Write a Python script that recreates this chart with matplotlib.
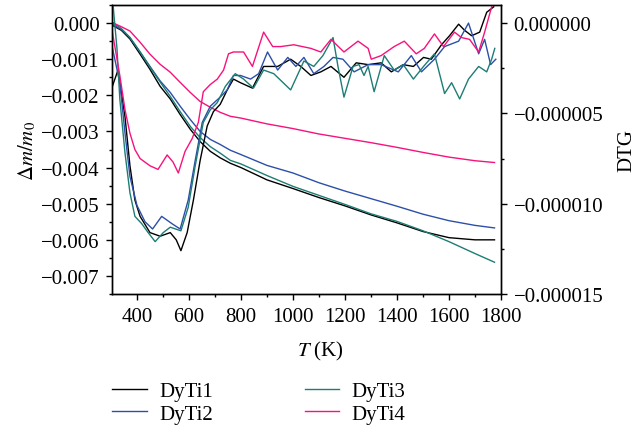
import matplotlib.pyplot as plt
from matplotlib.ticker import MultipleLocator, FuncFormatter

plt.rcParams['font.family'] = ['Liberation Serif', 'DejaVu Serif']
plt.rcParams['mathtext.fontset'] = 'stix'
plt.rcParams['font.size'] = 15

labels = ['DyTi1', 'DyTi2', 'DyTi3', 'DyTi4']
colors = ['#000000', '#2c4fa8', '#1d7d74', '#f7127c']

# TG curves (left axis), dm/m0 in units of 1e-3
tg_T = [303, 340, 373, 412, 450, 489, 528, 566, 605, 643, 682, 720, 759, 800,
        900, 1000, 1100, 1200, 1300, 1400, 1500, 1600, 1700, 1775]
tg_dyti1 = [-0.05, -0.20, -0.44, -0.86, -1.28, -1.75, -2.10, -2.53, -2.94, -3.28,
            -3.55, -3.73, -3.88, -4.00, -4.34, -4.58, -4.83, -5.06, -5.31, -5.53,
            -5.77, -5.94, -6.00, -6.00]
tg_dyti2 = [-0.02, -0.18, -0.40, -0.80, -1.20, -1.60, -1.92, -2.30, -2.67, -3.00,
            -3.22, -3.36, -3.52, -3.64, -3.94, -4.15, -4.42, -4.65, -4.86, -5.07,
            -5.29, -5.47, -5.60, -5.67]
tg_dyti3 = [0.03, -0.15, -0.40, -0.80, -1.22, -1.63, -2.03, -2.45, -2.86, -3.17,
            -3.42, -3.60, -3.80, -3.90, -4.22, -4.52, -4.77, -5.02, -5.28, -5.49,
            -5.75, -6.05, -6.38, -6.62]
tg_dyti4 = [0.02, -0.10, -0.22, -0.53, -0.86, -1.14, -1.36, -1.64, -1.92, -2.17,
            -2.33, -2.47, -2.58, -2.63, -2.79, -2.92, -3.07, -3.19, -3.31, -3.44,
            -3.58, -3.71, -3.81, -3.86]

# DTG curves (right axis), in units of 1e-6
dtg1_T = [303, 327, 354, 373, 392, 412, 450, 489, 528, 551, 569, 593, 617, 643,
          670, 694, 720, 747, 771, 798, 844, 887, 941, 991, 1030, 1069, 1107,
          1146, 1196, 1243, 1289, 1339, 1378, 1424, 1463, 1502, 1532, 1571, 1602,
          1637, 1660, 1687, 1718, 1745, 1772]
dtg1 = [-3.6, -2.6, -5.2, -7.9, -9.8, -10.7, -11.6, -11.8, -11.6, -12.0, -12.6,
        -11.6, -9.8, -7.6, -5.7, -4.9, -4.5, -3.7, -3.1, -3.3, -3.6, -2.4, -2.4,
        -2.0, -2.4, -2.9, -2.7, -2.4, -3.0, -2.2, -2.3, -2.2, -2.7, -2.3, -2.4,
        -1.9, -2.0, -1.2, -0.7, -0.06, -0.4, -0.7, -0.5, 0.6, 0.9]
dtg2_T = [303, 334, 354, 373, 400, 431, 460, 495, 534, 566, 597, 624, 651, 682,
          720, 747, 771, 798, 837, 868, 902, 941, 980, 1011, 1042, 1080, 1119,
          1154, 1192, 1235, 1289, 1339, 1405, 1455, 1494, 1544, 1583, 1637, 1675,
          1714, 1737, 1760, 1780]
dtg2 = [-1.2, -3.3, -6.1, -8.5, -10.1, -11.0, -11.4, -10.7, -11.1, -11.4, -9.8,
        -7.6, -5.5, -4.6, -4.1, -3.7, -2.9, -2.9, -3.1, -2.8, -1.6, -2.6, -1.9,
        -2.4, -1.9, -2.8, -2.4, -1.9, -2.0, -2.7, -2.3, -2.3, -2.7, -1.8, -2.7,
        -2.0, -1.3, -1.0, 0.0, -1.7, -0.9, -2.3, -2.0]
dtg3_T = [303, 323, 334, 354, 373, 392, 418, 443, 470, 501, 528, 569, 597, 624,
          655, 682, 709, 740, 778, 810, 848, 887, 926, 991, 1042, 1080, 1115,
          1154, 1173, 1196, 1231, 1254, 1273, 1289, 1312, 1351, 1389, 1424, 1463,
          1502, 1544, 1583, 1610, 1641, 1675, 1714, 1745, 1764, 1776]
dtg3 = [1.8, -1.4, -4.2, -7.2, -9.4, -10.7, -11.1, -11.6, -12.1, -11.6, -11.3,
        -11.5, -10.2, -7.9, -5.5, -4.8, -4.4, -3.5, -2.8, -3.1, -3.6, -2.6, -2.8,
        -3.7, -2.1, -2.4, -1.8, -0.8, -2.4, -4.1, -2.4, -2.3, -2.9, -2.4, -3.8,
        -1.8, -2.6, -2.3, -3.1, -2.4, -1.7, -3.9, -3.3, -4.2, -3.1, -2.4, -2.7,
        -2.0, -1.4]
dtg4_T = [303, 334, 354, 373, 392, 412, 450, 481, 516, 539, 559, 585, 612, 636,
          655, 682, 709, 733, 752, 771, 810, 844, 887, 922, 953, 1003, 1069, 1107,
          1146, 1196, 1250, 1289, 1301, 1339, 1389, 1428, 1474, 1505, 1544, 1579,
          1621, 1648, 1679, 1714, 1737, 1764, 1776]
dtg4 = [-0.3, -2.9, -4.8, -6.1, -7.0, -7.5, -7.9, -8.1, -7.3, -7.7, -8.3, -7.1,
        -6.4, -5.5, -3.8, -3.4, -3.1, -2.6, -1.7, -1.6, -1.6, -2.4, -0.5, -1.3,
        -1.3, -1.2, -1.4, -1.6, -0.9, -1.6, -1.0, -1.4, -2.0, -1.8, -1.3, -1.0,
        -1.7, -1.4, -0.6, -1.3, -0.5, -0.8, -0.9, -1.6, -0.5, 0.9, 1.2]

tg_all = [tg_dyti1, tg_dyti2, tg_dyti3, tg_dyti4]
dtg_all = [(dtg1_T, dtg1), (dtg2_T, dtg2), (dtg3_T, dtg3), (dtg4_T, dtg4)]

fig = plt.figure(figsize=(6.35, 4.31), dpi=100)
ax = fig.add_axes([0.1764, 0.3155, 0.6126, 0.6705])
ax2 = ax.twinx()

handles = []
for vals, c, lab in zip(tg_all, colors, labels):
    h, = ax.plot(tg_T, [v * 1e-3 for v in vals], color=c, lw=1.0, label=lab)
    handles.append(h)
for (tt, vals), c in zip(dtg_all, colors):
    ax2.plot(tt, [v * 1e-6 for v in vals], color=c, lw=1.0)

ax.set_xlim(304, 1800)
ax.set_ylim(-0.0075, 0.0005)
ax2.set_ylim(-1.5e-5, 1e-6)

ax.xaxis.set_major_locator(MultipleLocator(200))
ax.xaxis.set_minor_locator(MultipleLocator(100))
ax.yaxis.set_major_locator(MultipleLocator(0.001))
ax.yaxis.set_minor_locator(MultipleLocator(0.0005))
ax2.yaxis.set_major_locator(MultipleLocator(5e-6))
ax2.yaxis.set_minor_locator(MultipleLocator(2.5e-6))

def fmt(n):
    def f(v, pos):
        s = '%.*f' % (n, v)
        if float(s) == 0:
            s = s.lstrip('-')
        return s.replace('-', '\u2212')
    return FuncFormatter(f)

ax.yaxis.set_major_formatter(fmt(3))
ax2.yaxis.set_major_formatter(fmt(6))

for a in (ax, ax2):
    a.tick_params(which='major', direction='out', length=4, width=1, pad=5)
    a.tick_params(which='minor', direction='out', length=2.5, width=1)
    for s in a.spines.values():
        s.set_linewidth(1.0)

ax.set_xlabel('$T$ (K)')
ax.xaxis.set_label_coords(0.535, -0.155)
ax.set_ylabel(r'$\mathit{\Delta m}/m_0$', labelpad=2)
ax2.set_ylabel('DTG', rotation=90, labelpad=10)

fig.legend(handles=handles, loc='upper left', bbox_to_anchor=(0.164, 0.132),
           ncol=2, frameon=False, handlelength=1.65, handletextpad=0.6,
           columnspacing=4.4, labelspacing=0.15, borderaxespad=0)

fig.savefig('out.png', dpi=100)
